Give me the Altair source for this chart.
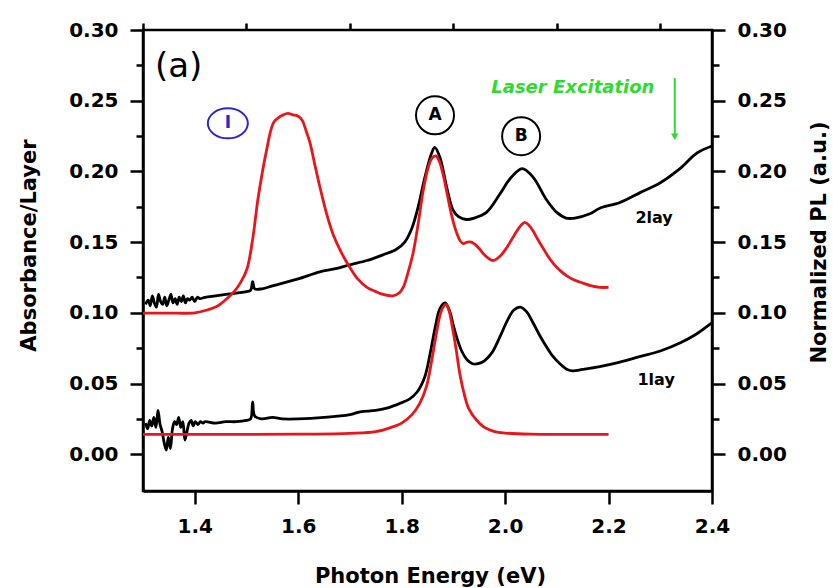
import altair as alt
import pandas as pd

# ---------------- data ----------------
# 2-layer absorbance (black)
abs2_x = [1.305, 1.310, 1.314, 1.318, 1.322, 1.326, 1.330, 1.334, 1.338, 1.342, 1.346, 1.350,
          1.354, 1.358, 1.362, 1.366, 1.370, 1.374, 1.378, 1.382, 1.386, 1.390, 1.395, 1.400,
          1.405, 1.410, 1.420, 1.440, 1.460, 1.480, 1.500, 1.508, 1.512, 1.516, 1.530, 1.550,
          1.570, 1.600, 1.642, 1.670, 1.700, 1.733, 1.764, 1.790, 1.806, 1.820, 1.832, 1.845,
          1.858, 1.864, 1.874, 1.887, 1.899, 1.910, 1.925, 1.940, 1.964, 1.990, 2.010, 2.033,
          2.054, 2.080, 2.100, 2.118, 2.135, 2.164, 2.183, 2.222, 2.261, 2.300, 2.338, 2.371,
          2.400]
abs2_y = [0.106, 0.109, 0.105, 0.112, 0.107, 0.104, 0.113, 0.108, 0.106, 0.111, 0.105, 0.109,
          0.113, 0.107, 0.110, 0.106, 0.111, 0.108, 0.112, 0.107, 0.110, 0.109, 0.111, 0.108,
          0.111, 0.110, 0.111, 0.112, 0.113, 0.114, 0.115, 0.116, 0.122, 0.117, 0.117, 0.119,
          0.121, 0.124, 0.129, 0.131, 0.134, 0.137, 0.141, 0.145, 0.150, 0.160, 0.175, 0.196,
          0.213, 0.217, 0.210, 0.189, 0.173, 0.168, 0.166, 0.167, 0.171, 0.184, 0.195, 0.202,
          0.196, 0.180, 0.171, 0.167, 0.167, 0.170, 0.174, 0.178, 0.185, 0.192, 0.202, 0.213,
          0.218]

# 2-layer normalized PL (red)
pl2_x = [1.300, 1.350, 1.400, 1.424, 1.445, 1.462, 1.476, 1.488, 1.501, 1.512, 1.522, 1.531,
         1.540, 1.547, 1.553, 1.562, 1.571, 1.580, 1.590, 1.600, 1.608, 1.615, 1.623, 1.632,
         1.642, 1.655, 1.667, 1.683, 1.700, 1.715, 1.733, 1.750, 1.764, 1.783, 1.795, 1.803,
         1.812, 1.822, 1.832, 1.841, 1.850, 1.858, 1.866, 1.873, 1.880, 1.887, 1.893, 1.900,
         1.907, 1.913, 1.919, 1.927, 1.935, 1.943, 1.951, 1.963, 1.977, 1.990, 2.003, 2.013,
         2.023, 2.031, 2.038, 2.046, 2.054, 2.063, 2.073, 2.083, 2.093, 2.106, 2.120, 2.135,
         2.151, 2.167, 2.183, 2.200]
pl2_y = [0.0998, 0.0998, 0.100, 0.102, 0.105, 0.110, 0.115, 0.121, 0.131, 0.152, 0.180, 0.200,
         0.217, 0.229, 0.235, 0.238, 0.240, 0.241, 0.240, 0.239, 0.236, 0.229, 0.220, 0.205,
         0.189, 0.170, 0.156, 0.143, 0.132, 0.124, 0.118, 0.115, 0.113, 0.112, 0.114, 0.118,
         0.128, 0.142, 0.163, 0.185, 0.201, 0.209, 0.211, 0.207, 0.198, 0.186, 0.175, 0.164,
         0.156, 0.151, 0.149, 0.150, 0.150, 0.148, 0.145, 0.140, 0.137, 0.140, 0.146, 0.152,
         0.158, 0.162, 0.164, 0.162, 0.158, 0.152, 0.146, 0.140, 0.135, 0.130, 0.126, 0.123,
         0.121, 0.119, 0.118, 0.118]

# 1-layer absorbance (black)
abs1_x = [1.305, 1.309, 1.313, 1.317, 1.321, 1.325, 1.329, 1.333, 1.337, 1.341, 1.345, 1.349,
          1.353, 1.357, 1.361, 1.365, 1.369, 1.373, 1.377, 1.381, 1.385, 1.389, 1.393, 1.397,
          1.401, 1.406, 1.411, 1.416, 1.420, 1.440, 1.460, 1.480, 1.500, 1.508, 1.512, 1.516,
          1.530, 1.550, 1.570, 1.600, 1.650, 1.700, 1.720, 1.750, 1.775, 1.797, 1.815, 1.830,
          1.845, 1.855, 1.865, 1.874, 1.884, 1.893, 1.900, 1.907, 1.916, 1.926, 1.937, 1.948,
          1.960, 1.975, 1.990, 2.005, 2.017, 2.029, 2.041, 2.054, 2.067, 2.080, 2.093, 2.106,
          2.120, 2.131, 2.150, 2.183, 2.220, 2.260, 2.300, 2.340, 2.370, 2.400]
abs1_y = [0.022, 0.018, 0.024, 0.020, 0.026, 0.019, 0.031, 0.021, 0.016, 0.008, 0.003, 0.012,
          0.004, 0.018, 0.023, 0.021, 0.026, 0.019, 0.023, 0.010, 0.016, 0.022, 0.024, 0.020,
          0.023, 0.021, 0.023, 0.022, 0.023, 0.022, 0.023, 0.023, 0.024, 0.025, 0.037, 0.027,
          0.025, 0.026, 0.025, 0.025, 0.026, 0.028, 0.030, 0.031, 0.033, 0.036, 0.039, 0.044,
          0.055, 0.071, 0.090, 0.103, 0.107, 0.101, 0.091, 0.082, 0.073, 0.067, 0.064, 0.064,
          0.066, 0.072, 0.083, 0.095, 0.102, 0.104, 0.101, 0.093, 0.084, 0.076, 0.069, 0.064,
          0.060, 0.059, 0.060, 0.062, 0.065, 0.069, 0.073, 0.079, 0.085, 0.093]

# 1-layer normalized PL (red)
pl1_x = [1.300, 1.400, 1.500, 1.600, 1.700, 1.750, 1.780, 1.800, 1.820, 1.835, 1.848, 1.858,
         1.866, 1.874, 1.880, 1.886, 1.892, 1.898, 1.905, 1.912, 1.920, 1.930, 1.945, 1.960,
         1.980, 2.000, 2.050, 2.100, 2.200]
pl1_y = [0.014, 0.014, 0.014, 0.0142, 0.0148, 0.016, 0.019, 0.022, 0.028, 0.036, 0.048, 0.066,
         0.083, 0.098, 0.104, 0.106, 0.101, 0.090, 0.075, 0.058, 0.044, 0.032, 0.024, 0.019,
         0.016, 0.015, 0.0142, 0.014, 0.014]

# axis ticks
x_major = [1.4, 1.6, 1.8, 2.0, 2.2, 2.4]
x_minor = [1.3, 1.5, 1.7, 1.9, 2.1, 2.3]
y_major = [0.00, 0.05, 0.10, 0.15, 0.20, 0.25, 0.30]
y_minor = [0.025, 0.075, 0.125, 0.175, 0.225, 0.275]

# annotations (data coordinates)
circled_labels = ["A", "B"]
circled_x = [1.8645, 2.031]
circled_y = [0.2397, 0.2249]
peak_I = {"x": [1.464], "y": [0.234], "t": ["I"]}
panel = {"x": [1.323], "y": [0.267], "t": ["(a)"]}
laser = {"x": [2.131], "y": [0.2553], "t": ["Laser Excitation"]}
arrow = {"x": [2.328], "y": [0.266], "y2": [0.2245]}
layer_labels = {"x": [2.288, 2.292], "y": [0.1634, 0.0488], "t": ["2lay", "1lay"]}

# ---------------- chart ----------------
FONT = "DejaVu Sans"
GREEN = "#2edb2e"
RED = "#e8161b"
BLUE = "#2828c8"


def frame(xs, ys, name):
    return pd.DataFrame({"x": xs, "y": ys, "series": name})


black_df = pd.concat([frame(abs2_x, abs2_y, "abs 2lay"), frame(abs1_x, abs1_y, "abs 1lay")])
red_df = pd.concat([frame(pl2_x, pl2_y, "PL 2lay"), frame(pl1_x, pl1_y, "PL 1lay")])
dummy = pd.DataFrame({"x": [1.5], "y": [0.1]})

xs = alt.Scale(domain=[1.3, 2.4], nice=False, zero=False)
ys = alt.Scale(domain=[-0.026, 0.30], nice=False, zero=False)

common_axis = dict(labelFlush=False, labelOverlap=False, grid=False)

x_axis_major = alt.Axis(values=x_major, format=".1f", tickSize=13, labelPadding=12,
                        title="Photon Energy (eV)", titleX=287, titleY=91,
                        titleAlign="center", titleBaseline="alphabetic", **common_axis)
y_axis_major = alt.Axis(values=y_major, format=".2f", orient="left", tickSize=13, labelPadding=12,
                        title="Absorbance/Layer", titleAngle=270, titleX=-108, titleY=215,
                        titleAlign="center", titleBaseline="alphabetic", **common_axis)
x_axis_minor = alt.Axis(values=x_minor, tickSize=7, labels=False, domain=False, title="",
                        **common_axis)
y_axis_minor = alt.Axis(values=y_minor, orient="left", tickSize=7, labels=False, domain=False,
                        title="", **common_axis)
y_axis_right = alt.Axis(values=y_major, format=".2f", orient="right", tickSize=13, labelPadding=12,
                        title="Normalized PL (a.u.)", titleAngle=270, titleX=113, titleY=212,
                        titleAlign="center", titleBaseline="alphabetic", **common_axis)
y_axis_right_minor = alt.Axis(values=y_minor, orient="right", tickSize=7, labels=False,
                              domain=False, title="", **common_axis)

black = alt.Chart(black_df).mark_line(color="black", strokeWidth=2.8, interpolate="catmull-rom").encode(
    x=alt.X("x:Q", scale=xs, axis=x_axis_major),
    y=alt.Y("y:Q", scale=ys, axis=y_axis_major),
    detail="series:N",
)
red = alt.Chart(red_df).mark_line(color=RED, strokeWidth=2.8, interpolate="catmull-rom").encode(
    x=alt.X("x:Q", scale=xs, axis=None),
    y=alt.Y("y:Q", scale=ys, axis=None),
    detail="series:N",
)

minor_x = alt.Chart(dummy).mark_point(opacity=0).encode(
    x=alt.X("x:Q", scale=xs, axis=x_axis_minor))
minor_y = alt.Chart(dummy).mark_point(opacity=0).encode(
    y=alt.Y("y:Q", scale=ys, axis=y_axis_minor))
right_y = alt.Chart(dummy).mark_point(opacity=0).encode(
    y=alt.Y("y:Q", scale=ys, axis=y_axis_right))
right_minor = alt.Chart(dummy).mark_point(opacity=0).encode(
    y=alt.Y("y:Q", scale=ys, axis=y_axis_right_minor))


def enc(chart):
    return chart.encode(
        x=alt.X("x:Q", scale=xs, axis=None),
        y=alt.Y("y:Q", scale=ys, axis=None),
    )


circ_df = pd.DataFrame({"x": circled_x, "y": circled_y, "t": circled_labels})
circles = enc(alt.Chart(circ_df).mark_point(shape="circle", size=1444, filled=False,
                                              color="black", strokeWidth=2, opacity=1))
circ_text = enc(alt.Chart(circ_df).mark_text(font=FONT, fontSize=17, fontWeight="bold",
                                               color="black", baseline="middle", align="center")
                ).encode(text="t:N")

ell_path = "M -1 0 A 1 0.75 0 1 1 1 0 A 1 0.75 0 1 1 -1 0 Z"
i_df = pd.DataFrame(peak_I)
i_circle = enc(alt.Chart(i_df).mark_point(shape=ell_path, size=1600, filled=False,
                                            color=BLUE, strokeWidth=2, opacity=1))
i_text = enc(alt.Chart(i_df).mark_text(font=FONT, fontSize=17, fontWeight="bold", color=BLUE,
                                         baseline="middle", align="center")).encode(text="t:N")

panel_text = enc(alt.Chart(pd.DataFrame(panel)).mark_text(
    font=FONT, fontSize=34, color="black", align="left", baseline="alphabetic")).encode(text="t:N")

laser_text = enc(alt.Chart(pd.DataFrame(laser)).mark_text(
    font=FONT, fontSize=18, fontWeight="bold", fontStyle="italic", color=GREEN,
    align="center", baseline="alphabetic")).encode(text="t:N")

arrow_df = pd.DataFrame(arrow)
arrow_line = alt.Chart(arrow_df).mark_rule(color=GREEN, strokeWidth=2).encode(
    x=alt.X("x:Q", scale=xs, axis=None),
    y=alt.Y("y:Q", scale=ys, axis=None),
    y2="y2:Q",
)
arrow_head = alt.Chart(arrow_df).mark_point(shape="triangle-down", size=55, filled=True,
                                            color=GREEN, opacity=1).encode(
    x=alt.X("x:Q", scale=xs, axis=None),
    y=alt.Y("y2:Q", scale=ys, axis=None),
)

lay_text = enc(alt.Chart(pd.DataFrame(layer_labels)).mark_text(
    font=FONT, fontSize=16, fontWeight="bold", color="black",
    align="center", baseline="alphabetic")).encode(text="t:N")

chart = alt.layer(
    black, red, minor_x, minor_y, right_y, right_minor,
    circles, circ_text, i_circle, i_text, panel_text, laser_text,
    arrow_line, arrow_head, lay_text,
).resolve_axis(x="independent", y="independent").properties(
    width=569, height=461,
    padding={"left": 143, "top": 30, "right": 121, "bottom": 97},
    autosize=alt.AutoSizeParams(type="none"),
    background="white",
).configure_view(
    stroke="black", strokeWidth=2.5
).configure_axis(
    domainColor="black", domainWidth=2.5, tickColor="black", tickWidth=2.5,
    labelFont=FONT, labelFontSize=20, labelFontWeight="bold", labelColor="black",
    titleFont=FONT, titleFontSize=21, titleFontWeight="bold", titleColor="black",
)

chart.save("out.html", embed_options={"renderer": "svg", "actions": False})
